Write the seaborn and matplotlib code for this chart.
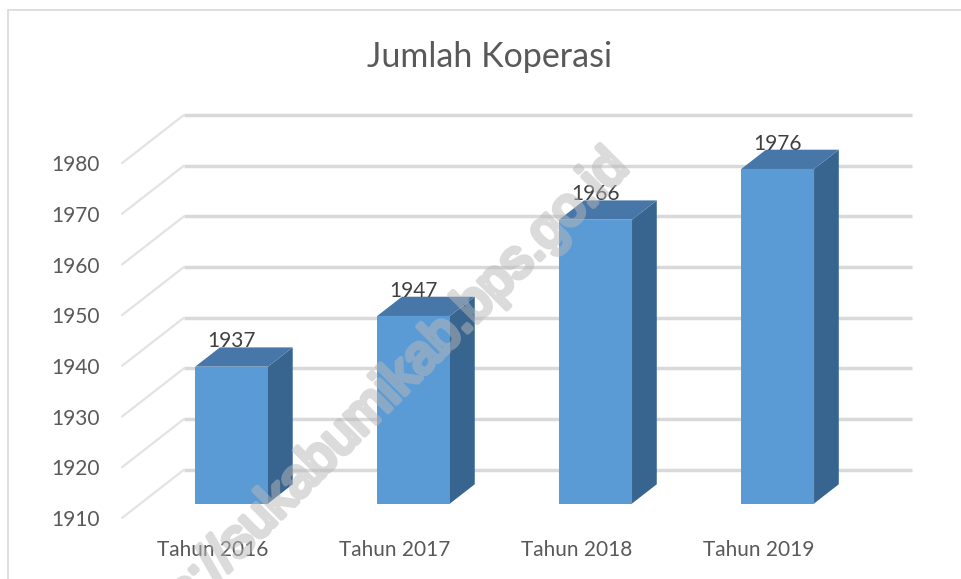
import matplotlib
matplotlib.use('Agg')
import matplotlib.pyplot as plt
import matplotlib.patheffects as pe
import seaborn as sns
import pandas as pd
from matplotlib.patches import Polygon, Rectangle

# data
categories = ['Tahun 2016', 'Tahun 2017', 'Tahun 2018', 'Tahun 2019']
values = [1937, 1947, 1966, 1976]
y_ticks = [1910, 1920, 1930, 1940, 1950, 1960, 1970, 1980]
title = 'Jumlah Koperasi'
watermark = 'https://sukabumikab.bps.go.id'

# fake 3D geometry (data units)
base = 1910
DX, DY = 0.34, 9.5      # depth of the box
f0, f1 = 0.3, 0.7       # bars sit between these fractions of the depth
bar_w = 0.4

front_col = '#5B9BD5'
top_col = '#4677A8'
side_col = '#386590'
grid_col = '#D9D9D9'
text_col = '#595959'

sns.set_theme(style='white')
plt.rcParams['font.family'] = ['Lato', 'DejaVu Sans']

fig = plt.figure(figsize=(9.62, 5.79), dpi=100)
ax = fig.add_axes([0.1268, 0.1054, 0.8212, 0.696])

df = pd.DataFrame({'tahun': categories, 'jumlah': values})
sns.barplot(data=df, x='tahun', y='jumlah', color=front_col, width=bar_w,
            saturation=1, ax=ax, zorder=3)

ax.set_xlim(-0.5, len(categories) - 0.5 + DX)
ax.set_ylim(base, y_ticks[-1] + DY)

# back wall gridlines + the slanted side lines
for t in y_ticks:
    ax.plot([-0.5 + DX, len(categories) - 0.5 + DX], [t + DY, t + DY],
            color=grid_col, lw=2.5, zorder=1, clip_on=False, solid_capstyle='butt')
    ax.plot([-0.5, -0.5 + DX], [t, t + DY], color='#E3E3E3', lw=1.6,
            zorder=1, clip_on=False)

dd = (f1 - f0) * DX
for p, v in zip(ax.patches, values):
    w = p.get_width()
    x0 = p.get_x() + f0 * DX
    y0 = base + f0 * DY
    p.set_x(x0)
    p.set_y(y0)
    p.set_height(v - base)
    p.set_edgecolor('none')
    yt = v + f0 * DY
    side = Polygon([(x0 + w, y0), (x0 + w, yt), (x0 + w + dd, v + f1 * DY),
                    (x0 + w + dd, base + f1 * DY)], closed=True,
                   facecolor=side_col, edgecolor='none', zorder=3)
    top = Polygon([(x0, yt), (x0 + w, yt), (x0 + w + dd, v + f1 * DY),
                   (x0 + dd, v + f1 * DY)], closed=True,
                  facecolor=top_col, edgecolor='none', zorder=3)
    ax.add_patch(side)
    ax.add_patch(top)
    ax.text(x0 + w / 2, v + f1 * DY, str(v), ha='center', va='baseline',
            fontsize=15, color='#404040', zorder=5)

ax.set_yticks(y_ticks)
ax.set_yticklabels([str(t) for t in y_ticks])
ax.set_xlabel('')
ax.set_ylabel('')
ax.tick_params(axis='y', length=0, pad=16, labelsize=15, labelcolor=text_col)
ax.tick_params(axis='x', length=0, pad=16, labelsize=15, labelcolor=text_col)
for s in ax.spines.values():
    s.set_visible(False)
ax.set_facecolor('none')

fig.text(490 / 962, 1 - 57 / 579, title, ha='center', va='center',
         fontsize=24.5, color=text_col)

# chart border
fig.patches.append(Rectangle((8 / 962, -0.1), 1.0, 1 - 10 / 579 + 0.1,
                             transform=fig.transFigure, fill=False,
                             edgecolor=grid_col, lw=1.2))

# watermark: drawn as a thick stroke only, so it looks bold and stays see-through
wm = fig.text(620 / 962, 1 - 160 / 579, watermark, ha='right', va='center',
              rotation=45, rotation_mode='anchor', fontsize=39,
              family=['Liberation Sans', 'DejaVu Sans'],
              color=(0, 0, 0, 0), zorder=10)
wm.set_path_effects([pe.Stroke(linewidth=3.6, foreground=(0.72, 0.72, 0.72, 0.5),
                               joinstyle='round', capstyle='round')])

fig.savefig('out.png', dpi=100)
